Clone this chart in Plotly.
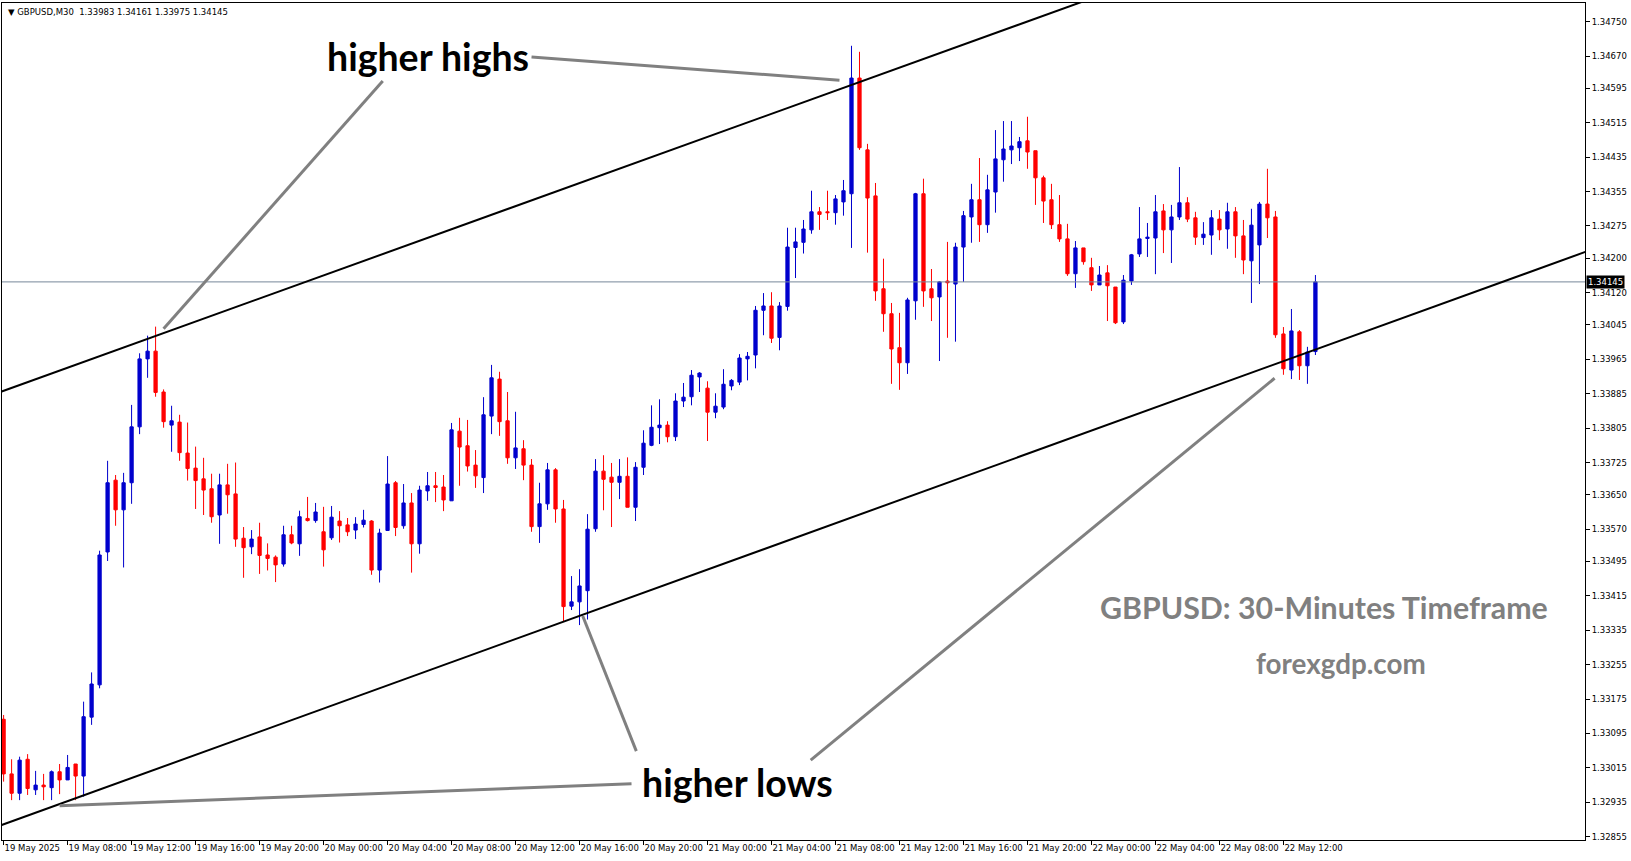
import plotly.graph_objects as go

# ---------------- data (GBPUSD M30, bar index 0 = first visible bar) ----------------
opens = [
1.33128,1.33001,1.32956,1.33035,1.32964,1.32975,1.32969,1.33006,1.32987,1.33024,
1.32996,1.33133,1.33208,1.33517,1.33684,1.33615,1.33678,1.33808,1.33966,1.33984,
1.33889,1.33812,1.33819,1.33747,1.33712,1.33687,1.33664,1.33603,1.33673,1.33652,
1.33549,1.33529,1.33552,1.33510,1.33505,1.33489,1.33557,1.33536,1.33595,1.33590,
1.33564,1.33550,1.33589,1.33580,1.33568,1.33581,1.33589,1.33475,1.33567,1.33678,
1.33578,1.33631,1.33536,1.33659,1.33671,1.33668,1.33636,1.33798,1.33764,1.33719,
1.33690,1.33833,1.33919,1.33822,1.33736,1.33757,1.33719,1.33576,1.33629,1.33708,
1.33617,1.33391,1.33401,1.33427,1.33571,1.33705,1.33691,1.33679,1.33693,1.33621,
1.33714,1.33765,1.33806,1.33812,1.33785,1.33868,1.33878,1.33924,1.33898,1.33842,
1.33854,1.33903,1.33912,1.33966,1.33975,1.34079,1.34089,1.34016,1.34088,1.34225,
1.34237,1.34266,1.34308,1.34308,1.34306,1.34331,1.34350,1.34619,1.34452,1.34345,
1.34129,1.34071,1.33992,1.33957,1.34101,1.34350,1.34129,1.34110,1.34147,1.34140,
1.34226,1.34296,1.34336,1.34278,1.34354,1.34429,1.34452,1.34457,1.34473,1.34450,
1.34387,1.34336,1.34278,1.34245,1.34164,1.34224,1.34178,1.34138,1.34166,1.34133,
1.34052,1.34147,1.34210,1.34246,1.34247,1.34310,1.34266,1.34296,1.34329,1.34294,
1.34248,1.34254,1.34291,1.34268,1.34308,1.34252,1.34194,1.34231,1.34326,1.34296,
1.34024,1.33940,1.34029,1.33950,1.33983]
highs = [
1.33138,1.33035,1.33041,1.33047,1.33008,1.33001,1.33009,1.33024,1.33045,1.33024,
1.33169,1.33237,1.33520,1.33729,1.33696,1.33701,1.33859,1.33979,1.34020,1.34041,
1.33895,1.33857,1.33836,1.33818,1.33762,1.33736,1.33699,1.33699,1.33722,1.33725,
1.33575,1.33568,1.33585,1.33537,1.33509,1.33578,1.33578,1.33613,1.33645,1.33631,
1.33622,1.33624,1.33612,1.33596,1.33598,1.33615,1.33591,1.33571,1.33740,1.33682,
1.33675,1.33654,1.33671,1.33703,1.33703,1.33696,1.33817,1.33829,1.33824,1.33754,
1.33877,1.33952,1.33936,1.33889,1.33843,1.33777,1.33733,1.33678,1.33724,1.33712,
1.33638,1.33461,1.33477,1.33605,1.33733,1.33742,1.33724,1.33733,1.33737,1.33726,
1.33800,1.33858,1.33872,1.33821,1.33886,1.33910,1.33940,1.33935,1.33914,1.33886,
1.33942,1.33919,1.33977,1.33982,1.34089,1.34119,1.34121,1.34098,1.34271,1.34271,
1.34289,1.34357,1.34319,1.34357,1.34347,1.34382,1.34694,1.34680,1.34466,1.34375,
1.34199,1.34096,1.34073,1.34108,1.34352,1.34385,1.34175,1.34147,1.34238,1.34236,
1.34310,1.34373,1.34433,1.34394,1.34498,1.34519,1.34519,1.34482,1.34529,1.34450,
1.34392,1.34373,1.34347,1.34280,1.34240,1.34224,1.34201,1.34182,1.34184,1.34133,
1.34161,1.34210,1.34319,1.34282,1.34347,1.34326,1.34324,1.34412,1.34342,1.34308,
1.34284,1.34312,1.34312,1.34329,1.34319,1.34289,1.34315,1.34331,1.34408,1.34310,
1.34040,1.34082,1.34033,1.33994,1.34161]
lows = [
1.32983,1.32940,1.32940,1.32952,1.32952,1.32940,1.32940,1.32954,1.32987,1.32940,
1.32948,1.33115,1.33200,1.33496,1.33578,1.33481,1.33629,1.33791,1.33922,1.33878,
1.33806,1.33750,1.33729,1.33683,1.33617,1.33603,1.33585,1.33536,1.33606,1.33529,
1.33457,1.33512,1.33466,1.33474,1.33447,1.33483,1.33535,1.33508,1.33588,1.33585,
1.33483,1.33545,1.33539,1.33554,1.33547,1.33574,1.33464,1.33446,1.33567,1.33554,
1.33571,1.33469,1.33513,1.33636,1.33633,1.33612,1.33636,1.33671,1.33704,1.33666,
1.33654,1.33791,1.33787,1.33722,1.33710,1.33684,1.33564,1.33538,1.33615,1.33585,
1.33356,1.33382,1.33347,1.33360,1.33564,1.33614,1.33575,1.33640,1.33621,1.33589,
1.33696,1.33763,1.33768,1.33772,1.33775,1.33854,1.33858,1.33889,1.33775,1.33828,
1.33849,1.33893,1.33905,1.33916,1.33944,1.34021,1.34003,1.33986,1.34078,1.34154,
1.34211,1.34257,1.34266,1.34289,1.34278,1.34299,1.34224,1.34452,1.34213,1.34101,
1.34029,1.33908,1.33894,1.33931,1.34057,1.34087,1.34054,1.33961,1.34015,1.34006,
1.34145,1.34236,1.34238,1.34259,1.34306,1.34378,1.34419,1.34426,1.34408,1.34324,
1.34282,1.34268,1.34238,1.34159,1.34131,1.34185,1.34124,1.34138,1.34054,1.34047,
1.34047,1.34138,1.34203,1.34203,1.34163,1.34212,1.34189,1.34289,1.34284,1.34231,
1.34231,1.34208,1.34242,1.34222,1.34201,1.34163,1.34096,1.34140,1.34247,1.34015,
1.33929,1.33919,1.33917,1.33908,1.33975]
closes = [
1.33001,1.32956,1.33033,1.32967,1.32975,1.32971,1.33006,1.32987,1.33016,1.32996,
1.33134,1.33210,1.33510,1.33678,1.33615,1.33678,1.33808,1.33966,1.33984,1.33888,
1.33820,1.33822,1.33748,1.33711,1.33683,1.33661,1.33599,1.33673,1.33650,1.33547,
1.33527,1.33547,1.33509,1.33502,1.33487,1.33557,1.33538,1.33599,1.33590,1.33610,
1.33522,1.33598,1.33578,1.33564,1.33582,1.33591,1.33475,1.33561,1.33675,1.33574,
1.33631,1.33536,1.33661,1.33671,1.33667,1.33638,1.33801,1.33761,1.33717,1.33694,
1.33836,1.33922,1.33820,1.33736,1.33759,1.33719,1.33576,1.33629,1.33708,1.33617,
1.33390,1.33401,1.33438,1.33570,1.33705,1.33686,1.33679,1.33693,1.33621,1.33714,
1.33770,1.33807,1.33812,1.33785,1.33868,1.33877,1.33928,1.33933,1.33842,1.33856,
1.33907,1.33916,1.33968,1.33972,1.34079,1.34089,1.34014,1.34089,1.34226,1.34238,
1.34268,1.34308,1.34302,1.34306,1.34338,1.34357,1.34619,1.34457,1.34340,1.34124,
1.34071,1.33989,1.33957,1.34103,1.34350,1.34124,1.34108,1.34145,1.34143,1.34226,
1.34299,1.34336,1.34278,1.34359,1.34431,1.34454,1.34461,1.34471,1.34447,1.34387,
1.34333,1.34278,1.34245,1.34164,1.34224,1.34192,1.34138,1.34161,1.34136,1.34050,
1.34149,1.34208,1.34245,1.34249,1.34308,1.34266,1.34296,1.34329,1.34291,1.34249,
1.34256,1.34294,1.34266,1.34308,1.34252,1.34196,1.34277,1.34326,1.34294,1.34022,
1.33943,1.34031,1.33950,1.33982,1.34145]

# time-axis labels (one every 8 bars = 4 hours)
time_tick_bars = [0, 8, 16, 24, 32, 40, 48, 56, 64, 72, 80, 88, 96, 104, 112, 120, 128, 136, 144, 152, 160]
time_tick_labels = ["19 May 2025", "19 May 08:00", "19 May 12:00", "19 May 16:00", "19 May 20:00",
                    "20 May 00:00", "20 May 04:00", "20 May 08:00", "20 May 12:00", "20 May 16:00",
                    "20 May 20:00", "21 May 00:00", "21 May 04:00", "21 May 08:00", "21 May 12:00",
                    "21 May 16:00", "21 May 20:00", "22 May 00:00", "22 May 04:00", "22 May 08:00",
                    "22 May 12:00"]
price_ticks = [1.34750, 1.34670, 1.34595, 1.34515, 1.34435, 1.34355, 1.34275, 1.34200, 1.34120,
               1.34045, 1.33965, 1.33885, 1.33805, 1.33725, 1.33650, 1.33570, 1.33495, 1.33415,
               1.33335, 1.33255, 1.33175, 1.33095, 1.33015, 1.32935, 1.32855]
last_price = 1.34145

# channel trend lines (bar, price anchors)
upper_line_bars = [-1, 140]
upper_line_prices = [1.33885, 1.34831]
lower_line_bars = [-1, 200]
lower_line_prices = [1.32877, 1.34230]

# annotation pointer lines (bar, price)
pointers = [
    ([47.4, 20.0], [1.34612, 1.34036]),
    ([66.0, 104.5], [1.34668, 1.34614]),
    ([78.5, 7.0], [1.32978, 1.32927]),
    ([79.1, 72.4], [1.33054, 1.33368]),
    ([100.9, 158.9], [1.33033, 1.33921]),
]

bars = list(range(len(opens)))
header = "\u25bc GBPUSD,M30\u00a0\u00a0" + " ".join(f"{v:.5f}" for v in
                                                 [opens[-1], highs[-1], lows[-1], closes[-1]])

FONT_SMALL = "DejaVu Sans"
BLUE = "#0000CD"
RED = "#FF0000"

fig = go.Figure()

fig.add_trace(go.Candlestick(
    x=bars, open=opens, high=highs, low=lows, close=closes,
    increasing=dict(line=dict(color=BLUE, width=1), fillcolor=BLUE),
    decreasing=dict(line=dict(color=RED, width=1), fillcolor=RED),
    whiskerwidth=0, hoverinfo="skip", showlegend=False,
))

# current price line
fig.add_trace(go.Scatter(x=[-1, 200], y=[last_price, last_price], mode="lines",
                         line=dict(color="#778899", width=1), hoverinfo="skip", showlegend=False))

# channel lines
fig.add_trace(go.Scatter(x=upper_line_bars, y=upper_line_prices, mode="lines",
                         line=dict(color="black", width=2), hoverinfo="skip", showlegend=False))
fig.add_trace(go.Scatter(x=lower_line_bars, y=lower_line_prices, mode="lines",
                         line=dict(color="black", width=2), hoverinfo="skip", showlegend=False))

for px_, py_ in pointers:
    fig.add_trace(go.Scatter(x=px_, y=py_, mode="lines",
                             line=dict(color="#808080", width=3), hoverinfo="skip", showlegend=False))

annotations = [
    dict(x=53.1, y=1.34668, text="<b>higher highs</b>", showarrow=False,
         font=dict(family="Lato", size=37.5, color="black"), xanchor="center", yanchor="middle"),
    dict(x=91.7, y=1.32981, text="<b>higher lows</b>", showarrow=False,
         font=dict(family="Lato", size=37.5, color="black"), xanchor="center", yanchor="middle"),
    dict(x=165.1, y=1.33388, text="<b>GBPUSD: 30-Minutes Timeframe</b>", showarrow=False,
         font=dict(family="Lato", size=30.3, color="#808080"), xanchor="center", yanchor="middle"),
    dict(x=167.2, y=1.33257, text="<b>forexgdp.com</b>", showarrow=False,
         font=dict(family="Lato", size=27.8, color="#808080"), xanchor="center", yanchor="middle"),
    dict(xref="paper", yref="paper", x=0, y=1, xshift=4, yshift=-2, text=header, showarrow=False,
         font=dict(family=FONT_SMALL, size=8.5, color="black"), xanchor="left", yanchor="top"),
    dict(xref="paper", yref="y", x=1, y=last_price, xshift=1, text=f"{last_price:.5f}", showarrow=False,
         font=dict(family=FONT_SMALL, size=8.5, color="white"), bgcolor="black",
         xanchor="left", yanchor="middle", borderpad=1),
]

fig.update_layout(
    width=1631, height=861,
    margin=dict(l=2, r=46, t=3, b=21, autoexpand=False),
    paper_bgcolor="white", plot_bgcolor="white",
    boxgap=0.42,
    showlegend=False,
    annotations=annotations,
    xaxis=dict(range=[-0.2, 197.7], showgrid=False, zeroline=False, showline=True, mirror=True,
               linecolor="black", linewidth=1, ticks="outside", ticklen=4, tickcolor="black",
               tickvals=time_tick_bars, ticktext=time_tick_labels, ticklabelposition="outside right",
               ticklabeloverflow="allow", tickangle=0,
               tickfont=dict(family=FONT_SMALL, size=8.5, color="black"),
               rangeslider=dict(visible=False), fixedrange=True),
    yaxis=dict(range=[1.328473, 1.347935], side="right", showgrid=False, zeroline=False,
               showline=True, mirror=True, linecolor="black", linewidth=1,
               ticks="outside", ticklen=4, tickcolor="black",
               tickvals=price_ticks, ticktext=[f"{v:.5f}" for v in price_ticks],
               ticklabeloverflow="allow",
               tickfont=dict(family=FONT_SMALL, size=8.5, color="black"), fixedrange=True),
)

fig.write_html("out.html", config={"displayModeBar": False},
               post_script="document.body.style.margin='0';document.body.style.overflow='hidden';")
